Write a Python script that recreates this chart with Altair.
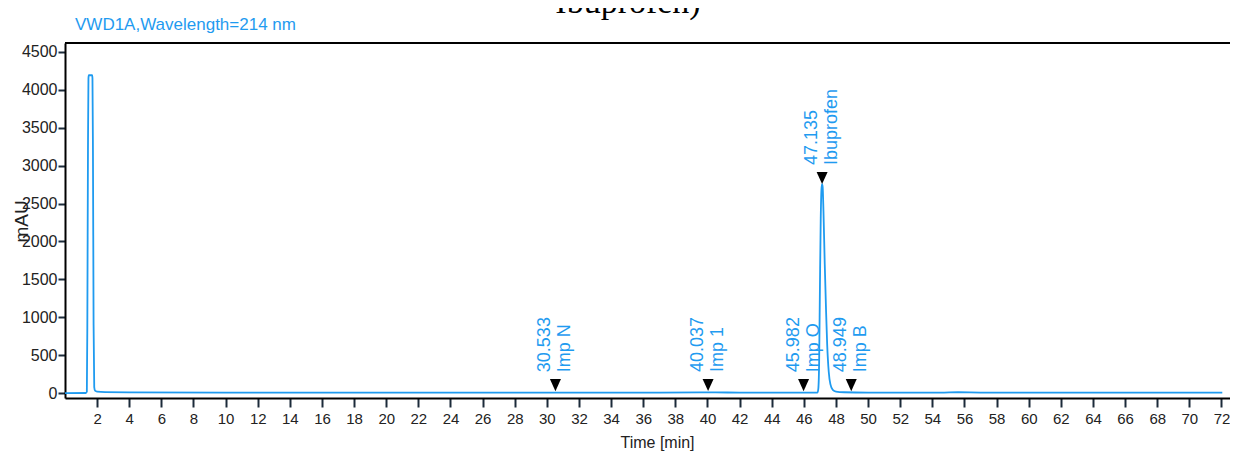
import altair as alt
import pandas as pd

# ---------------- data ----------------
time_min = [0.0, 1.30, 1.36, 1.39, 1.43, 1.46, 1.48, 1.69, 1.71, 1.74, 1.78, 1.82, 1.87,
            2.0, 2.5, 4.0, 10.0, 20.0, 30.0, 35.0, 39.5, 40.5, 42.0, 46.0,
            46.85, 46.90, 46.95, 47.00, 47.05, 47.10, 47.135, 47.17, 47.22, 47.30, 47.38,
            47.45, 47.55, 47.65, 47.80, 48.0, 48.5, 50.0, 54.5, 55.6, 57.0, 60.0, 66.0, 72.05]
signal_mau = [2, 4, 20, 900, 3200, 4150, 4190, 4190, 4150, 3200, 900, 80, 35,
              22, 15, 12, 10, 8, 9, 9, 11, 12, 9, 9,
              10, 60, 400, 1400, 2300, 2700, 2757, 2720, 2400, 1700, 1100,
              650, 280, 120, 45, 22, 14, 10, 9, 14, 10, 9, 8, 8]

peak_times = [30.533, 40.037, 45.982, 47.135, 48.949]
peak_names = ["Imp N", "Imp 1", "Imp O", "Ibuprofen", "Imp B"]
peak_heights = [28, 30, 28, 2757, 28]

x_ticks = list(range(2, 73, 2))
y_ticks = list(range(0, 4501, 500))

TITLE = "Ibuprofen)"
SUBTITLE = "VWD1A,Wavelength=214 nm"

BLUE = "#1f9bf0"
FONT = "Liberation Sans"
W, H = 1165, 355

df_line = pd.DataFrame({"t": time_min, "v": signal_mau})
df_peaks = pd.DataFrame({
    "t": peak_times,
    "v": peak_heights,
    "rt": [f"{p:.3f}" for p in peak_times],
    "name": peak_names,
})

xscale = alt.Scale(domain=[0, 72.53], nice=False, zero=False)
yscale = alt.Scale(domain=[-62, 4615], nice=False, zero=False)

xaxis = alt.Axis(values=x_ticks, title="Time [min]", grid=False, format="d",
                 labelFont=FONT, labelFontSize=15, labelColor="#222222",
                 labelPadding=4, tickSize=9, tickWidth=2, tickColor="#1c2b3a",
                 domainColor="black", domainWidth=2,
                 titleFont=FONT, titleFontSize=16, titleFontWeight="normal",
                 titleColor="#222222", titleX=592, titleY=49,
                 titleAlign="center", titleBaseline="alphabetic", labelFlush=False)
yaxis = alt.Axis(values=y_ticks, title="mAU", grid=False, format="d",
                 labelFont=FONT, labelFontSize=16, labelColor="#222222",
                 labelPadding=1, tickSize=7, tickWidth=2, tickColor="#1c2b3a",
                 domainColor="black", domainWidth=2,
                 titleFont=FONT, titleFontSize=19, titleFontWeight="normal",
                 titleColor="#222222", titleX=-44, titleY=178, titleAngle=270,
                 titleAlign="center", titleBaseline="middle", labelFlush=False)

X = alt.X("t:Q", scale=xscale, axis=xaxis)
Y = alt.Y("v:Q", scale=yscale, axis=yaxis)

line = alt.Chart(df_line).mark_line(
    color=BLUE, strokeWidth=1.8, interpolate="monotone"
).encode(x=X, y=Y)

markers = alt.Chart(df_peaks).mark_point(
    shape="M-1,-2.2L1,-2.2L0,0Z", size=121, filled=True,
    color="black", opacity=1, strokeWidth=0
).encode(x=X, y=Y)

rt_text = alt.Chart(df_peaks).mark_text(
    angle=270, align="left", baseline="middle", dx=19, dy=-10,
    font=FONT, fontSize=18, color=BLUE
).encode(x=X, y=Y, text="rt:N")

name_text = alt.Chart(df_peaks).mark_text(
    angle=270, align="left", baseline="middle", dx=19, dy=10,
    font=FONT, fontSize=18, color=BLUE
).encode(x=X, y=Y, text="name:N")

one = pd.DataFrame({"title": [TITLE], "sub": [SUBTITLE]})

top_rule = alt.Chart(one).mark_rule(color="black", strokeWidth=2).encode(
    x=alt.value(0), x2=alt.value(W), y=alt.value(0)
)

title_text = alt.Chart(one).mark_text(
    font="Liberation Serif", fontSize=34, align="center", baseline="alphabetic",
    color="black"
).encode(text="title:N", x=alt.value(563), y=alt.value(-30))

sub_text = alt.Chart(one).mark_text(
    font=FONT, fontSize=17, align="left", baseline="alphabetic", color=BLUE
).encode(text="sub:N", x=alt.value(10), y=alt.value(-13))

chart = alt.layer(
    line, markers, rt_text, name_text, top_rule, title_text, sub_text
).properties(
    width=W, height=H,
    autosize=alt.AutoSizeParams(type="none"),
    padding={"left": 57, "top": 35, "right": 0, "bottom": 54},
).configure_view(stroke=None).configure(background="white")

chart.save("out.html", embed_options={"renderer": "svg", "actions": False})
